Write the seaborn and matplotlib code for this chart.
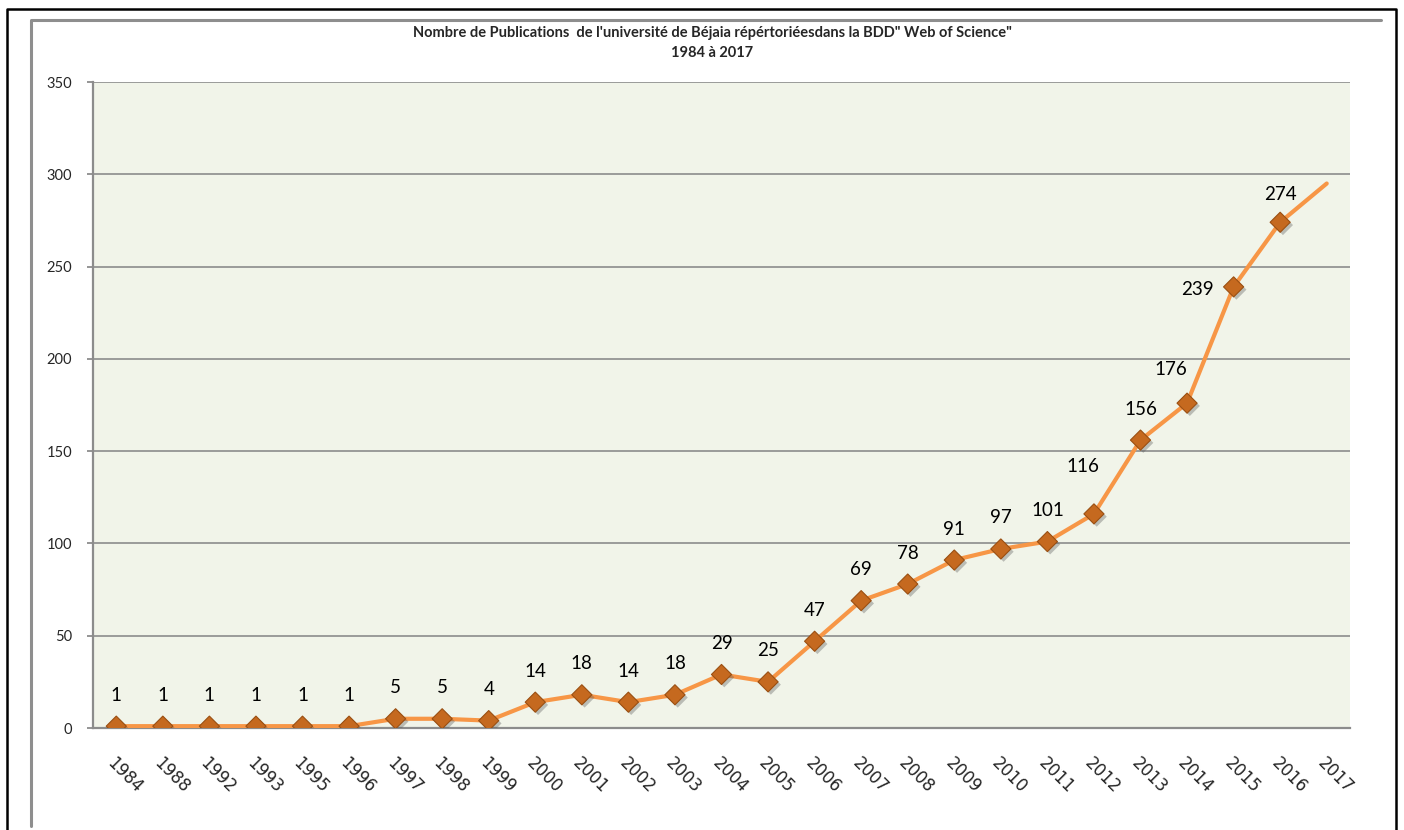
import numpy as np
import pandas as pd
import matplotlib
matplotlib.use('Agg')
import matplotlib.pyplot as plt
import matplotlib.patheffects as pe
from matplotlib.lines import Line2D
import seaborn as sns

# ─────────────────────────────────────────────
# DATA
# ─────────────────────────────────────────────
years = ['1984', '1988', '1992', '1993', '1995', '1996', '1997', '1998', '1999',
         '2000', '2001', '2002', '2003', '2004', '2005', '2006', '2007', '2008',
         '2009', '2010', '2011', '2012', '2013', '2014', '2015', '2016', '2017']
publications = [1, 1, 1, 1, 1, 1, 5, 5, 4, 14, 18, 14, 18, 29, 25, 47, 69, 78,
                91, 97, 101, 116, 156, 176, 239, 274, 295]
# the last point (2017) has no marker and no label in the original
n_marked = 26

title_text = ("Nombre de Publications  de l'université de Béjaia "
              "répértoriéesdans la BDD\" Web of Science\"\n1984 à 2017")
y_ticks = [0, 50, 100, 150, 200, 250, 300, 350]

# label placement tweaks (pixels, relative to the marker)
label_offsets = {21: (-11, 47), 23: (-16, 34), 24: (-36, -3), 25: (0, 28)}

df = pd.DataFrame({'year': years, 'pubs': publications})

# ─────────────────────────────────────────────
# STYLE
# ─────────────────────────────────────────────
sns.set_style('white')
plt.rcParams['font.family'] = ['Lato', 'DejaVu Sans']

W, H = 1404, 830
fig = plt.figure(figsize=(W / 100, H / 100), dpi=100)
ax = fig.add_axes([93 / W, 1 - 728 / H, (1350 - 93) / W, (728 - 82) / H])
ax.set_facecolor('#F1F4E9')

grid_col = '#8C8C8C'
line_col = '#F79646'

# line through all years, markers only on the labelled ones
sns.lineplot(data=df, x='year', y='pubs', ax=ax, color=line_col,
             linewidth=3.0, sort=False, zorder=3)
sns.scatterplot(data=df.iloc[:n_marked], x='year', y='pubs', ax=ax,
                marker='D', s=105, color='#C5691F', edgecolor='#9A4F12',
                linewidth=0.8, zorder=4,
                path_effects=[pe.SimplePatchShadow(offset=(2, -2), shadow_rgbFace='#555555', alpha=0.35),
                              pe.Normal()])

for i in range(n_marked):
    dx, dy = label_offsets.get(i, (0, 31))
    ax.annotate(str(publications[i]), (years[i], publications[i]),
                xytext=(dx, dy), textcoords='offset pixels',
                ha='center', va='center', fontsize=13.5, color='black', zorder=5)

# axes
ax.set_xlim(-0.5, len(years) - 0.5)
ax.set_ylim(0, 350)
ax.set_yticks(y_ticks)
ax.yaxis.grid(True, color=grid_col, linewidth=1.2)
ax.xaxis.grid(False)
ax.set_axisbelow(True)
ax.set_xlabel('')
ax.set_ylabel('')

ax.set_xticks(range(len(years)))
ax.set_xticklabels(years)
ax.set_xticks(np.arange(-0.5, len(years)), minor=True)
ax.tick_params(axis='x', which='major', length=0, pad=19, labelsize=12)
ax.tick_params(axis='x', which='minor', length=4, width=1.3, color=grid_col, direction='out')
ax.tick_params(axis='y', length=4, width=1.3, color=grid_col, pad=11, labelsize=10.5,
               left=True)
for lbl in ax.get_xticklabels():
    lbl.set_rotation(-45)
    lbl.set_ha('left')
    lbl.set_va('top')
    lbl.set_rotation_mode('anchor')
    lbl.set_fontfamily('DejaVu Sans')

for side in ['top', 'right']:
    ax.spines[side].set_visible(False)
for side in ['left', 'bottom']:
    ax.spines[side].set_color(grid_col)
    ax.spines[side].set_linewidth(1.6)

fig.text(712 / W, 1 - 43 / H, title_text, ha='center', va='center',
         fontsize=10.5, fontweight='bold', linespacing=1.5)

# chart frames (black outer, grey inner)
def px_line(xs, ys, **kw):
    fig.add_artist(Line2D([x / W for x in xs], [1 - y / H for y in ys],
                          transform=fig.transFigure, **kw))

px_line([7, 7, 1396, 1396], [840, 9, 9, 840], color='black', linewidth=1.8)
px_line([31, 31, 1381], [826, 20, 20], color='#8E8E8E', linewidth=2.2)

fig.savefig('out.png', dpi=100)
